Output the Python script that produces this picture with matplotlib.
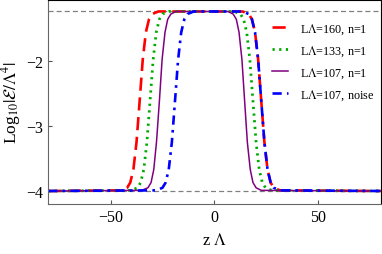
import matplotlib
matplotlib.use("Agg")
import matplotlib.pyplot as plt

plt.rcParams['font.family'] = ['Liberation Serif', 'DejaVu Serif']
plt.rcParams['mathtext.fontset'] = 'stix'

# profiles (z, log10 of energy density)
z_160 = [-80, -45, -42, -40.5, -39, -37.5, -36, -34.5, -33, -31.5, -30, -27,
         13.5, 16.5, 18, 19.5, 21, 22.5, 24, 25.5, 27, 28.5, 31.5, 80]
y_160 = [-4, -3.99, -3.95, -3.87, -3.67, -3.25, -2.62, -1.98, -1.56, -1.36, -1.28, -1.24,
         -1.24, -1.28, -1.36, -1.56, -1.98, -2.62, -3.25, -3.67, -3.87, -3.95, -3.99, -4]

z_133 = [-80, -40, -37, -35.5, -34, -32.5, -31, -29.5, -28, -26.5, -25, -22,
         9.5, 12.5, 14, 15.5, 17, 18.5, 20, 21.5, 23, 24.5, 27.5, 80]
y_133 = [-4, -3.99, -3.95, -3.87, -3.67, -3.25, -2.62, -1.98, -1.56, -1.36, -1.28, -1.24,
         -1.24, -1.28, -1.36, -1.56, -1.98, -2.62, -3.25, -3.67, -3.87, -3.95, -3.99, -4]

z_107 = [-80, -35, -32, -30.5, -29.2, -27.9, -26.5, -25.2, -23.8, -22.5, -21, -18.5,
         6.5, 9, 10.5, 11.8, 13.2, 14.5, 15.8, 17.2, 18.5, 20, 22.5, 80]
y_107 = [-4, -3.99, -3.95, -3.87, -3.67, -3.25, -2.62, -1.98, -1.56, -1.36, -1.28, -1.24,
         -1.24, -1.28, -1.36, -1.56, -1.98, -2.62, -3.25, -3.67, -3.87, -3.95, -3.99, -4]

z_noise = [-80, -28, -25, -23.5, -22, -20.5, -19, -17.5, -16, -14.5, -13, -10,
           13.5, 16.5, 18, 19.5, 21, 22.5, 24, 25.5, 27, 28.5, 31.5, 80]
y_noise = [-4, -3.99, -3.95, -3.87, -3.67, -3.25, -2.62, -1.98, -1.56, -1.36, -1.28, -1.24,
           -1.24, -1.28, -1.36, -1.56, -1.98, -2.62, -3.25, -3.67, -3.87, -3.95, -3.99, -4]

labels = ['L$\\Lambda$=160, n=1', 'L$\\Lambda$=133, n=1', 'L$\\Lambda$=107, n=1', 'L$\\Lambda$=107, noise']
top_level = -1.23
bottom_level = -4.0

fig = plt.figure(figsize=(3.82, 2.55), dpi=100)
ax = fig.add_axes([0.126, 0.196, 0.871, 0.801])

ax.axhline(top_level, color='gray', lw=0.9, ls=(0, (4, 2.5)), zorder=1)
ax.axhline(bottom_level, color='gray', lw=0.9, ls=(0, (4, 2.5)), zorder=1)

ax.plot(z_160, y_160, color='red', lw=1.9, ls=(0, (5, 2.5)), label=labels[0])
ax.plot(z_133, y_133, color='#00aa00', lw=2.0, ls=(0, (0.8, 1.6)), label=labels[1])
ax.plot(z_107, y_107, color='purple', lw=1.1, label=labels[2])
ax.plot(z_noise, y_noise, color='blue', lw=1.9, ls=(0, (3.5, 2, 1, 2)), label=labels[3])

ax.set_xlim(-80, 80)
ax.set_ylim(-4.2, -1.06)
ax.set_xticks([-50, 0, 50])
ax.set_yticks([-2, -3, -4])
ax.tick_params(direction='in', length=3, labelsize=11.5, width=0.8, colors='#555555', labelcolor='black')
for s in ['left', 'bottom']:
    ax.spines[s].set_color('#666666')
for s in ['top', 'right']:
    ax.spines[s].set_color('black')

ax.set_xlabel('z $\\Lambda$', fontsize=12, labelpad=5)
ax.set_ylabel('Log$_{10}|\\mathcal{E}/\\Lambda^4|$', fontsize=12.5, labelpad=2)

ax.legend(loc='upper left', bbox_to_anchor=(0.673, 0.895), frameon=False, fontsize=8.7,
          borderpad=0, borderaxespad=0, handlelength=1.35, handletextpad=1.0, labelspacing=0.62)

fig.savefig('out.png', dpi=100)
